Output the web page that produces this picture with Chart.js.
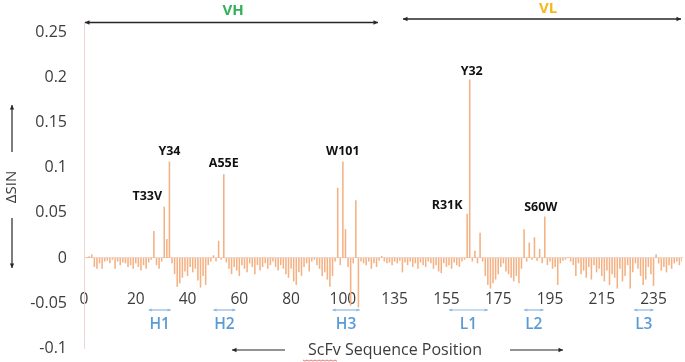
<!DOCTYPE html>
<html lang="en">
<head>
    <meta charset="UTF-8">
    <title>ScFv ΔSIN</title>
    <script src="https://cdn.jsdelivr.net/npm/chart.js"></script>
    <style>
        body {
            margin: 0;
            background: white;
        }
        .chart-box {
            width: 685px;
            height: 362px;
            position: relative;
        }
    </style>
</head>
<body>

    <div class="chart-box">
        <canvas id="sinChart"></canvas>
    </div>

    <script>
        // sequence positions: VH 0-119, linker left out, VL 135-246
        const vhPositions = [];
        for (let p = 0; p <= 119; p++) vhPositions.push(p);
        const vlPositions = [];
        for (let p = 135; p <= 246; p++) vlPositions.push(p);
        const positions = vhPositions.concat(vlPositions);

        const vhValues = [
            0, 0.001, 0.002, 0.004, -0.01, -0.012, -0.006, -0.012, -0.004, -0.003,
            -0.006, -0.002, -0.012, -0.004, -0.008, -0.005, -0.006, -0.01, -0.008, -0.012,
            -0.006, -0.01, -0.014, -0.008, -0.012, -0.005, -0.002, 0.030, -0.008, -0.012,
            -0.004, 0.057, 0.021, 0.107, -0.006, -0.018, -0.032, -0.028, -0.022, -0.015,
            -0.02, -0.01, -0.016, -0.012, -0.025, -0.033, -0.02, -0.03, -0.008, -0.004,
            0.003, -0.004, 0.019, -0.002, 0.093, -0.005, -0.012, -0.018, -0.01, -0.014,
            -0.02, -0.008, -0.012, -0.016, -0.006, -0.01, -0.018, -0.008, -0.014, -0.01,
            -0.006, -0.012, -0.008, -0.004, -0.01, -0.014, -0.008, -0.012, -0.018, -0.022,
            -0.012, -0.026, -0.03, -0.016, -0.02, -0.01, -0.006, -0.015, -0.004, -0.002,
            -0.008, -0.012, -0.02, -0.016, -0.024, -0.032, -0.02, -0.004, 0.078, -0.008,
            0.107, 0.032, -0.01, -0.053, -0.006, 0.064, -0.055, -0.004, -0.006, -0.008,
            -0.004, -0.012, -0.006, -0.01, -0.003, 0.002, -0.004, -0.006, -0.005, -0.008
        ];

        const vlValues = [
            -0.004, -0.006, -0.003, -0.016, -0.005, -0.008, -0.004, -0.01, -0.006, -0.012,
            -0.005, -0.008, -0.01, -0.004, -0.006, -0.012, -0.008, -0.015, -0.017, -0.006,
            -0.01, -0.008, -0.012, -0.005, -0.008, -0.01, -0.004, -0.002, 0.049, 0.198,
            -0.004, 0.008, -0.006, 0.028, -0.004, -0.02, -0.03, -0.034, -0.028, -0.024,
            -0.018, -0.01, -0.006, -0.015, -0.018, -0.022, -0.026, -0.02, -0.028, -0.012,
            0.032, -0.004, 0.017, -0.002, 0.023, -0.003, 0.010, -0.006, 0.046, -0.008,
            -0.004, -0.012, -0.01, -0.03, -0.006, -0.003, -0.002, 0.001, -0.004, -0.008,
            -0.02, -0.006, -0.018, -0.014, -0.022, -0.01, -0.024, -0.008, -0.016, -0.012,
            -0.02, -0.026, -0.014, -0.03, -0.018, -0.022, -0.034, -0.012, -0.026, -0.02,
            -0.008, -0.034, -0.016, -0.006, -0.012, -0.02, -0.03, -0.024, -0.01, -0.018,
            -0.031, 0.004, -0.006, -0.014, -0.01, -0.016, -0.008, -0.012, -0.006, -0.004,
            -0.008, -0.004
        ];

        const sinValues = vhValues.concat(vlValues);

        // labelled mutations: name, bar index
        const mutationNames = ["T33V", "Y34", "A55E", "W101", "R31K", "Y32", "S60W"];
        const mutationBars = [31, 33, 54, 100, 148, 149, 178];

        // CDR regions: name, first and last bar index
        const cdrNames = ["H1", "H2", "H3", "L1", "L2", "L3"];
        const cdrStart = [25, 50, 96, 141, 170, 212.5];
        const cdrEnd = [33.5, 58.5, 106.5, 156, 177.5, 220];

        const textDark = "#3c3c3c";

        function arrowLine(ctx, x1, y1, x2, y2, head1, head2, size) {
            ctx.beginPath();
            ctx.moveTo(x1, y1);
            ctx.lineTo(x2, y2);
            ctx.stroke();
            const ang = Math.atan2(y2 - y1, x2 - x1);
            const drawHead = (x, y, a) => {
                ctx.beginPath();
                ctx.moveTo(x, y);
                ctx.lineTo(x - size * Math.cos(a - 0.45), y - size * Math.sin(a - 0.45));
                ctx.lineTo(x - size * Math.cos(a + 0.45), y - size * Math.sin(a + 0.45));
                ctx.closePath();
                ctx.fill();
            };
            if (head2) drawHead(x2, y2, ang);
            if (head1) drawHead(x1, y1, ang + Math.PI);
        }

        const annotations = {
            id: "annotations",
            afterDraw(chart) {
                const ctx = chart.ctx;
                const xs = chart.scales.x;
                const ys = chart.scales.y;
                ctx.save();

                // mutation labels above bars
                const offsets = [[-17, -10], [0, -10], [0, -11], [0, -10], [-20, -8], [2, -8], [-4, -9]];
                ctx.font = "bold 12.5px 'Open Sans'";
                ctx.fillStyle = "#111";
                ctx.textAlign = "center";
                ctx.textBaseline = "middle";
                mutationNames.forEach((name, i) => {
                    const b = mutationBars[i];
                    const x = xs.getPixelForValue(b) + offsets[i][0];
                    const y = ys.getPixelForValue(sinValues[b]) + offsets[i][1];
                    ctx.fillText(name, x, y);
                });

                // VH / VL domain arrows
                ctx.strokeStyle = "#262626";
                ctx.fillStyle = "#262626";
                ctx.lineWidth = 1.5;
                arrowLine(ctx, 85, 22.5, 378, 22.5, true, true, 5);
                arrowLine(ctx, 403, 19, 681, 19, true, true, 5);
                ctx.font = "bold 15px 'Open Sans'";
                ctx.fillStyle = "#33b05a";
                ctx.fillText("VH", 233, 11);
                ctx.fillStyle = "#f2b81c";
                ctx.fillText("VL", 548, 9);

                // CDR markers
                ctx.lineWidth = 1.2;
                ctx.font = "600 15.5px 'Open Sans'";
                cdrNames.forEach((name, i) => {
                    const x1 = xs.getPixelForValue(cdrStart[i]);
                    const x2 = xs.getPixelForValue(cdrEnd[i]);
                    ctx.strokeStyle = "#8fb9e3";
                    ctx.fillStyle = "#8fb9e3";
                    arrowLine(ctx, x1, 310, x2, 310, true, true, 3.5);
                    ctx.fillStyle = "#5b9bd5";
                    ctx.fillText(name, (x1 + x2) / 2, 325);
                });

                // x title with arrows
                ctx.fillStyle = textDark;
                ctx.font = "16px 'Open Sans'";
                ctx.fillText("ScFv Sequence Position", 395, 350);
                ctx.strokeStyle = "#262626";
                ctx.fillStyle = "#262626";
                ctx.lineWidth = 1.2;
                arrowLine(ctx, 285, 350, 232, 350, false, true, 5);
                arrowLine(ctx, 510, 350, 563, 350, false, true, 5);

                // spellcheck squiggle under ScFv
                ctx.strokeStyle = "#e05050";
                ctx.lineWidth = 0.8;
                ctx.beginPath();
                for (let x = 303; x <= 338; x += 2) {
                    const y = 360 + ((x - 303) % 4 === 0 ? 0 : 1.2);
                    if (x === 303) ctx.moveTo(x, y); else ctx.lineTo(x, y);
                }
                ctx.stroke();

                // y title with arrows
                ctx.save();
                ctx.translate(12, 187);
                ctx.rotate(-Math.PI / 2);
                ctx.fillStyle = textDark;
                ctx.font = "15px 'Open Sans'";
                ctx.fillText("ΔSIN", 0, 0);
                ctx.restore();
                ctx.strokeStyle = "#262626";
                ctx.fillStyle = "#262626";
                ctx.lineWidth = 1.2;
                arrowLine(ctx, 12, 152, 12, 105, false, true, 5);
                arrowLine(ctx, 12, 218, 12, 268, false, true, 5);

                ctx.restore();
            }
        };

        let ctx = document.getElementById("sinChart").getContext("2d");
        let sinChart = new Chart(ctx, {
            type: "bar",
            data: {
                labels: positions,
                datasets: [{
                    data: sinValues,
                    backgroundColor: "#f4b183",
                    borderWidth: 0,
                    barPercentage: 0.6,
                    categoryPercentage: 1
                }]
            },
            options: {
                responsive: true,
                maintainAspectRatio: false,
                animation: false,
                layout: { padding: { top: 22, right: 3, bottom: 14, left: 0 } },
                plugins: { legend: { display: false }, tooltip: { enabled: false } },
                scales: {
                    x: {
                        position: { y: 0 },
                        offset: false,
                        grid: { display: false },
                        border: { color: "#ecd8cf", width: 1 },
                        afterFit: scale => {
                            scale.paddingLeft = 0;
                            scale.paddingRight = 0;
                        },
                        ticks: {
                            autoSkip: false,
                            maxRotation: 0,
                            padding: 24,
                            color: textDark,
                            font: { family: "'Open Sans'", size: 15.5 },
                            callback: function (val, index) {
                                return index % 20 === 0 ? String(positions[index]) : "";
                            }
                        }
                    },
                    y: {
                        min: -0.1,
                        max: 0.262,
                        grid: { display: false },
                        border: { color: "#f0d4d4", width: 1 },
                        afterFit: scale => {
                            scale.width = 84;
                            scale.paddingTop = 0;
                            scale.paddingBottom = 0;
                        },
                        ticks: {
                            stepSize: 0.05,
                            includeBounds: false,
                            padding: 9,
                            color: textDark,
                            font: { family: "'Open Sans'", size: 16 },
                            callback: v => String(+v.toFixed(2))
                        }
                    }
                }
            },
            plugins: [annotations]
        });
    </script>

</body>
</html>
